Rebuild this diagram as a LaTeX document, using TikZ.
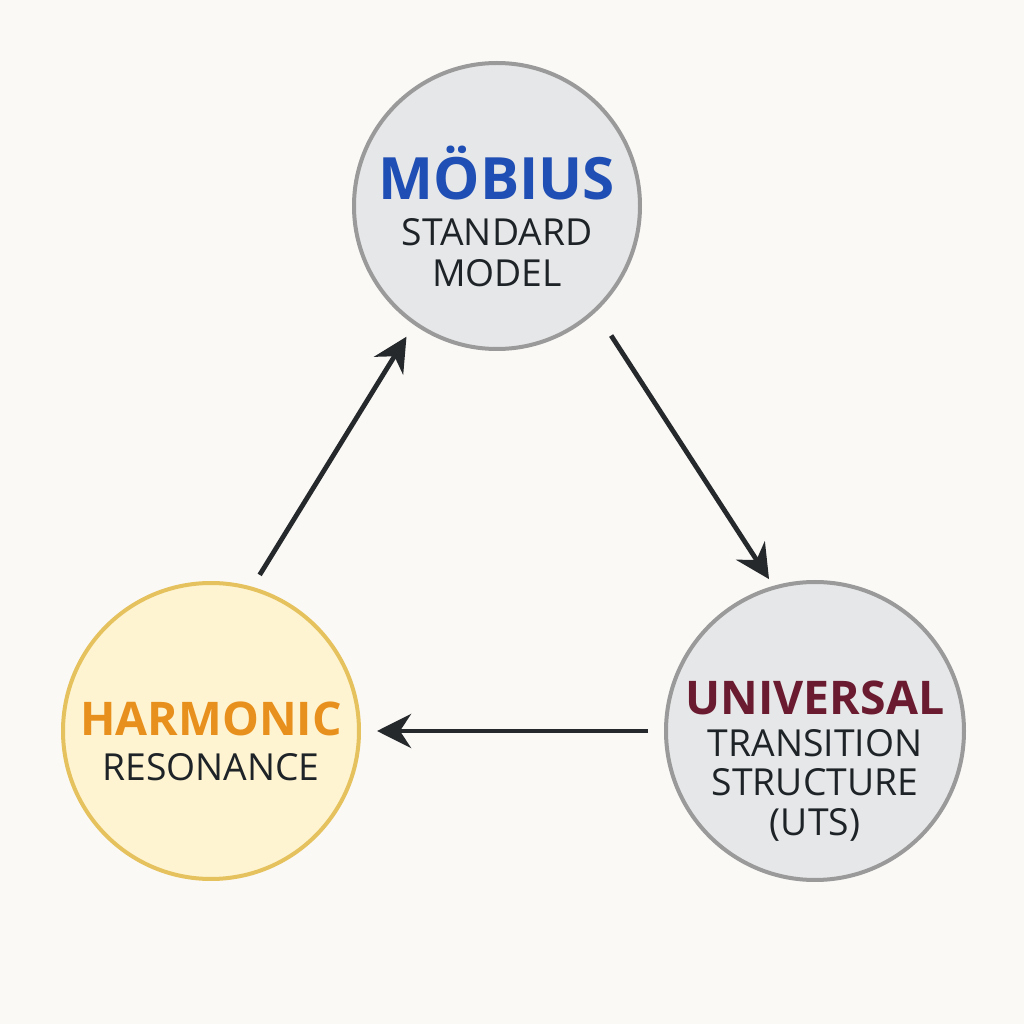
\documentclass[tikz,border=0pt]{standalone}
\usepackage{fontspec}
\setmainfont{Open Sans}
\usepackage{tikz}
\usetikzlibrary{arrows.meta}

\definecolor{bgcol}{HTML}{FAF9F6}
\definecolor{grayfill}{HTML}{E6E7E8}
\definecolor{grayline}{HTML}{9A9A9A}
\definecolor{yellowfill}{HTML}{FFF4D1}
\definecolor{yellowline}{HTML}{E5C25E}
\definecolor{mobblue}{HTML}{1F4FB4}
\definecolor{harmorange}{HTML}{E8901E}
\definecolor{univred}{HTML}{6A1B30}
\definecolor{darktext}{HTML}{1E2328}
\definecolor{arrowcol}{HTML}{25292B}

\begin{document}
\begin{tikzpicture}[
		bigcircle/.style={shape=circle,line width=0.04cm,inner sep=0pt},
		title/.style={anchor=base,font=\bfseries\fontsize{13.2}{13.2}\selectfont},
		sub/.style={anchor=base,text=darktext,font=\fontsize{10.6}{10.6}\selectfont},
		flow/.style={draw=arrowcol,line width=0.048cm,-{Stealth[length=0.34cm,width=0.34cm,inset=0.11cm]}}
	]
		\fill[bgcol] (0,0) rectangle (10.24,10.24);
		\useasboundingbox (0,0) rectangle (10.24,10.24);
		
		\node[bigcircle,draw=grayline,fill=grayfill,minimum size=2.86cm] (Mobius) at (4.97,8.18) {};
		\node[bigcircle,draw=yellowline,fill=yellowfill,minimum size=2.96cm] (Harmonic) at (2.11,2.93) {};
		\node[bigcircle,draw=grayline,fill=grayfill,minimum size=2.98cm] (Universal) at (8.15,2.93) {};
		
		\node[title,text=mobblue,font=\bfseries\fontsize{16.6}{16.6}\selectfont] (MobiusTitle) at (4.97,8.24) {MÖBIUS};
		\node[sub] (MobiusSub1) at (4.97,7.78) {STANDARD};
		\node[sub] (MobiusSub2) at (4.97,7.37) {MODEL};
		
		\node[title,text=harmorange] (HarmonicTitle) at (2.11,2.88) {HARMONIC};
		\node[sub] (HarmonicSub) at (2.11,2.43) {RESONANCE};
		
		\node[title,text=univred] (UniversalTitle) at (8.15,3.09) {UNIVERSAL};
		\node[sub] (UniversalSub1) at (8.15,2.68) {TRANSITION};
		\node[sub] (UniversalSub2) at (8.15,2.28) {STRUCTURE};
		\node[sub] (UniversalSub3) at (8.15,1.88) {(UTS)};
		
		\draw[flow,shorten <=0.14cm,shorten >=0.14cm] (Harmonic.74) to (Mobius.235);
		\draw[flow,shorten <=0.28cm,shorten >=0.08cm] (Mobius.-47) to (Universal.106);
		\draw[flow,shorten <=0.16cm,shorten >=0.16cm] (Universal.west) to (Harmonic.east);
		
	\end{tikzpicture}
\end{document}
